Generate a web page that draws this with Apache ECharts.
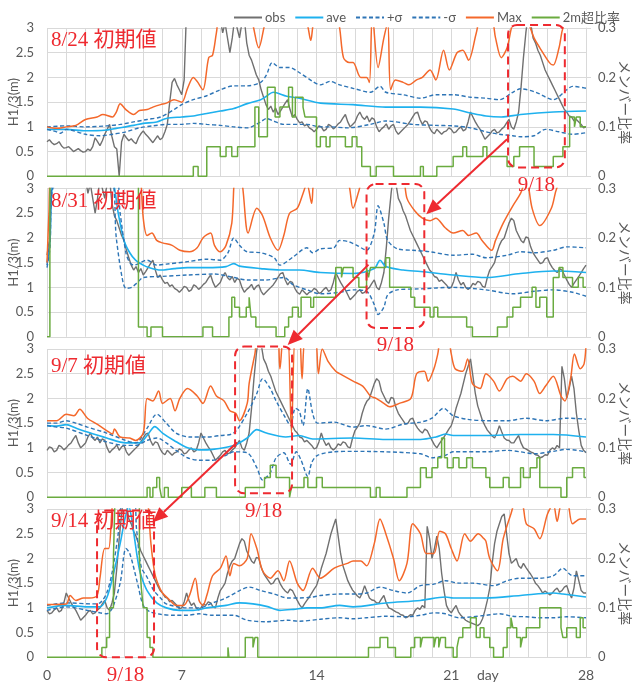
<!DOCTYPE html>
<html><head><meta charset="utf-8">
<script src="https://cdn.jsdelivr.net/npm/echarts@6/dist/echarts.min.js"></script>
<style>html,body{margin:0;padding:0;background:#fff}#c{width:632px;height:688px}</style>
</head><body><div id="c"></div>
<script>
// ---------------- DATA ----------------
// observed H1/3 (m), from 8/24 00:00, one value every OBS_STEP days
const OBS_STEP = 0.125;
const obs = [
0.70,0.74,0.68,0.64,0.66,0.70,0.62,0.57, 0.58,0.60,0.55,0.50,0.53,0.56,0.52,0.49,
0.50,0.55,0.52,0.60,0.78,0.70,0.62,0.72, 0.85,0.95,1.05,0.80,0.60,0.55,0.00,0.70,
0.85,0.78,0.72,0.76,0.70,0.66,0.78,0.86, 0.92,0.85,0.80,0.74,0.68,0.75,0.82,0.74,
0.78,0.90,1.05,1.50,1.90,1.98,1.85,1.75, 1.65,1.95,3.40,3.50,3.60,3.70,3.80,3.75,
3.70,3.60,3.50,3.40,3.30,3.20,3.10,3.30, 3.20,2.90,3.10,2.80,2.50,2.80,3.20,3.00,
2.80,3.10,3.20,2.70,2.45,2.35,2.20,2.05, 1.95,1.75,1.60,1.45,1.35,1.42,1.30,1.38,
1.25,1.32,1.40,1.48,1.55,1.35,1.20,1.25, 1.15,1.08,1.10,1.02,1.05,0.98,0.95,0.90,
0.95,1.02,1.00,0.92,0.95,1.05,1.02,0.96, 1.00,1.06,1.10,1.18,1.25,1.10,1.00,1.05,
1.10,1.22,1.30,1.20,1.15,1.22,1.10,1.18, 1.15,1.00,0.90,0.96,1.00,1.06,0.95,1.02,
1.05,0.92,0.85,0.90,0.95,1.00,1.05,1.12, 1.20,1.28,1.30,1.15,1.05,1.12,1.10,0.98,
0.90,0.86,0.95,0.90,0.85,0.90,0.92,0.98, 0.95,0.88,0.90,0.96,1.00,0.92,0.95,1.10,
1.30,1.20,1.10,1.02,0.95,0.85,0.75,0.80, 0.85,0.92,0.95,0.88,0.90,0.96,1.00,1.08,
1.15,1.00,0.95,1.10,1.30,1.80,2.40,2.90, 3.30,3.10,2.80,2.70,2.55,2.45,2.30,2.15,
2.05,1.95,1.85,1.75,1.65,1.55,1.45,1.35, 1.30,1.22,1.20,1.12,1.15,1.10,1.05,0.98,
1.00,1.12,1.30,1.15,1.05,1.10,1.00,0.96, 1.00,1.08,1.05,1.12,1.10,1.02,1.00,1.20,
1.35,1.42,1.50,1.70,1.85,1.95,2.00,2.15, 2.30,2.40,2.35,2.15,2.05,1.95,1.90,2.02,
2.00,1.82,1.70,1.62,1.55,1.48,1.50,1.58, 1.60,1.48,1.40,1.34,1.30,1.38,1.35,1.25,
1.15,1.06,1.00,1.08,1.15,1.22,1.30,1.38, 1.45,1.60,1.80,1.95,2.10,2.30,2.50,2.65,
2.80,2.45,2.10,1.85,1.70,1.55,1.45,1.36, 1.30,1.24,1.20,1.30,1.45,1.32,1.20,1.16,
1.15,1.10,1.10,1.18,1.25,1.10,1.00,0.98, 0.95,0.92,0.90,0.86,0.85,0.80,0.82,0.86,
0.85,0.95,1.00,0.97,1.05,1.00,2.65,2.40, 2.00,2.20,2.45,2.20,1.70,1.35,1.05,0.95,
0.90,0.98,1.05,0.92,0.85,0.80,0.75,0.72, 0.70,0.68,0.66,0.64,0.68,0.78,0.95,1.15,
1.40,1.90,2.30,2.55,2.70,2.85,2.90,2.50, 2.10,1.90,1.95,2.00,1.85,1.80,1.90,1.82,
1.75,1.68,1.60,1.50,1.45,1.38,1.30,1.34, 1.30,1.26,1.30,1.36,1.40,1.32,1.35,1.42,
1.45,1.30,1.20,1.40,1.75,1.55,1.35,1.30, 1.30
];
const panelLabels = ['8/24 初期値','8/31 初期値','9/7 初期値','9/14 初期値'];
const panelOffsets = [0,7,14,21];      // days from 8/24
const targetLabel = '9/18';
const xTicks = [0,7,14,21,28];

// ---- panel 1 (8/24) ----
const ave1 = [[0,0.95],[1,0.95],[2,0.92],[3,0.93],[3.6,0.97],[4.5,1.03],[5,1.07],[5.7,1.1],[6.2,1.17],[7,1.2],[7.6,1.22],[8.3,1.27],[9,1.32],[9.7,1.37],[10.4,1.47],[11.1,1.55],[11.4,1.62],[11.75,1.7],[12.45,1.62],[13.1,1.58],[14.2,1.48],[15.9,1.45],[17.6,1.4],[19.4,1.4],[21.1,1.36],[22,1.28],[22.8,1.22],[23.6,1.2],[24.6,1.25],[26.3,1.3],[28,1.32]];
const sigP1 = [[0,1.0],[1,1.02],[2,1.0],[3.1,1.02],[3.8,1.05],[4.5,1.1],[5.2,1.15],[5.9,1.2],[6.6,1.35],[7,1.45],[7.6,1.55],[8.3,1.63],[9,1.75],[9.7,1.83],[10.4,1.83],[11.1,1.9],[11.4,2.05],[11.7,2.3],[12.1,2.2],[12.6,2.2],[13.1,2.1],[13.8,1.92],[14.2,1.85],[14.7,1.92],[15.2,1.85],[15.9,1.78],[16.8,1.7],[17.3,1.82],[17.6,1.7],[18.5,1.65],[19.4,1.58],[20.2,1.65],[21.1,1.65],[22,1.6],[22.8,1.58],[23.5,1.55],[24.2,1.7],[24.6,1.77],[25.4,1.7],[26.3,1.55],[27,1.75],[27.3,1.82],[28,1.78]];
const sigM1 = [[0,0.95],[0.5,0.9],[0.7,0.87],[1,0.95],[2,0.85],[2.75,0.82],[3.4,0.85],[4.1,0.9],[4.8,0.98],[5.5,1.02],[6.2,1.05],[7,1.05],[7.6,1.07],[8.3,1.05],[9,1.03],[9.7,1.0],[10.4,0.98],[11.1,1.1],[11.4,1.17],[11.75,1.12],[12.3,1.05],[13.5,1.05],[14.2,1.0],[14.7,1.0],[15.6,0.98],[16.8,1.05],[17.6,1.12],[19,1.05],[20.2,1.03],[21.1,1.02],[22,0.98],[22.8,0.9],[23.5,0.85],[24.2,0.82],[24.6,0.8],[25.3,0.82],[25.9,0.95],[26.6,0.9],[27.3,0.85],[28,0.88]];
const max1 = [[0,1.0],[0.5,0.97],[1,1.0],[1.5,1.03],[2,1.15],[2.6,1.2],[2.9,1.25],[3.4,1.2],[3.6,1.3],[3.8,1.47],[4.1,1.35],[4.5,1.25],[4.8,1.33],[5.2,1.35],[5.5,1.4],[5.9,1.45],[6.2,1.48],[6.6,1.55],[7,1.5],[7.3,1.78],[7.6,2.0],[7.8,1.92],[8.1,1.75],[8.4,2.4],[8.6,2.45],[8.8,2.9],[9.0,3.3],[10,3.6],[10.6,3.2],[11.0,2.6],[11.4,3.2],[12,3.6],[13,3.4],[13.5,3.1],[13.7,2.75],[13.9,3.2],[14.5,3.5],[15.1,3.2],[15.4,2.4],[15.7,2.3],[15.9,2.3],[16.3,2.0],[16.6,2.0],[16.75,1.9],[16.9,3.3],[17.2,2.2],[17.5,2.8],[17.7,3.1],[17.85,1.75],[18.1,1.95],[18.5,1.9],[18.8,1.85],[19.2,1.95],[19.5,2.0],[19.9,2.15],[20.2,1.95],[20.6,2.55],[20.9,2.15],[21.3,2.5],[21.6,2.55],[21.9,2.35],[22.3,2.9],[22.6,3.3],[23.1,3.2],[23.3,2.8],[23.6,2.4],[23.9,2.6],[24.2,3.1],[24.6,3.3],[25.0,3.1],[25.3,2.8],[25.6,2.6],[26.1,2.3],[26.3,2.25],[26.6,2.6],[26.9,3.1],[28,3.5]];
const rate1 = [[0,0],[7.6,0.02],[7.85,0],[8.3,0.06],[9.0,0.04],[9.3,0.06],[9.6,0.04],[9.9,0.06],[10.8,0.14],[11.0,0.08],[11.45,0.18],[11.85,0.12],[12.1,0.14],[12.55,0.18],[12.75,0.12],[12.9,0.16],[13.3,0.14],[13.4,0.12],[14.0,0.06],[14.2,0.08],[14.5,0.06],[14.7,0.08],[15.5,0.06],[15.85,0.08],[16.1,0.06],[16.35,0.02],[16.8,0],[17.1,0.02],[18.0,0],[19.4,0.02],[19.55,0],[20.25,0.02],[21.1,0.04],[21.6,0.06],[21.8,0.04],[22.65,0.06],[22.85,0.04],[23.9,0.02],[24.25,0.04],[24.55,0.06],[25.3,0.02],[26.3,0.04],[26.8,0.06],[27.15,0.12],[27.4,0.1],[27.5,0.12],[27.7,0.1],[28,0.1]];

// ---- panel 2 (8/31) ----
const ave2 = [[0,1.5],[0.15,1.9],[0.3,3.1],[1,3.6],[3,3.4],[3.4,3.2],[3.7,2.5],[4.0,1.95],[4.3,1.7],[4.6,1.55],[5.0,1.45],[5.3,1.4],[5.9,1.35],[6.6,1.38],[7.3,1.4],[8.3,1.4],[9.3,1.42],[9.7,1.48],[10,1.43],[11.1,1.38],[12.1,1.35],[13.1,1.35],[14.2,1.3],[15.9,1.28],[17,1.38],[17.3,1.55],[17.6,1.42],[18.5,1.35],[19.4,1.32],[21.1,1.25],[22.8,1.2],[24.6,1.28],[26.3,1.33],[28,1.3]];
const sigP2 = [[0,1.45],[0.15,2.0],[0.3,3.2],[3.5,3.4],[3.8,2.5],[4.1,1.7],[4.3,1.5],[4.5,1.45],[5.2,1.55],[5.7,1.45],[6.2,1.47],[7.3,1.52],[8.3,1.57],[9.0,1.55],[9.4,1.7],[9.7,2.0],[10,1.85],[10.4,1.72],[11.1,1.7],[11.8,1.6],[12.1,1.45],[12.8,1.62],[13.5,1.8],[13.8,1.7],[14.2,1.78],[14.9,1.8],[15.2,1.95],[15.7,1.92],[16.1,1.85],[16.6,1.75],[17,2.1],[17.2,2.65],[17.5,2.3],[17.7,1.95],[18.2,1.78],[19,1.75],[19.9,1.72],[21.1,1.65],[22.1,1.67],[22.8,1.6],[23.9,1.65],[24.6,1.72],[25.3,1.7],[26.3,1.75],[27,1.82],[28,1.8]];
const sigM2 = [[0,1.4],[0.15,1.8],[0.3,3.0],[3.3,3.2],[3.6,2.0],[3.9,1.2],[4.1,0.98],[4.4,1.0],[4.7,1.1],[5.0,1.2],[5.9,1.22],[7.3,1.25],[8.7,1.27],[9.7,1.2],[10.4,1.15],[11.4,1.15],[12.3,1.2],[12.8,1.05],[13.5,0.95],[14.2,0.87],[15.2,0.9],[15.9,0.95],[16.6,0.92],[17.0,0.65],[17.2,0.45],[17.5,0.6],[17.7,0.85],[18.2,0.95],[19.4,0.97],[21.1,1.0],[22.8,0.95],[24.2,0.87],[25.3,0.92],[26.3,0.95],[27.3,0.9],[28,0.82]];
const max2 = [[0,1.5],[0.1,2.5],[0.2,3.3],[4.7,3.5],[4.85,3.3],[5.0,2.4],[5.2,2.05],[5.45,2.1],[5.7,1.95],[6.0,1.9],[6.5,1.85],[6.9,1.75],[7.4,1.72],[7.8,1.8],[8.1,2.0],[8.5,2.1],[8.7,1.85],[9.0,1.72],[9.3,1.85],[9.6,2.3],[9.8,3.3],[10.1,3.2],[10.45,2.1],[10.9,2.6],[11.2,2.45],[11.6,2.0],[12.0,1.75],[12.3,2.05],[12.6,2.5],[13.0,2.6],[13.3,2.9],[13.5,3.1],[13.75,2.7],[13.9,3.2],[14.3,3.1],[14.8,3.5],[15.6,3.2],[15.9,2.6],[16.2,2.95],[16.5,3.3],[18.3,3.5],[18.7,2.8],[19.1,2.55],[19.5,2.4],[19.9,2.35],[20.2,2.4],[20.7,2.2],[21.1,2.1],[21.6,2.15],[21.9,2.05],[22.3,2.1],[22.6,1.95],[23.1,1.75],[23.3,1.95],[23.7,2.3],[24.2,2.65],[24.6,2.9],[24.9,3.2],[25.2,2.6],[25.6,2.25],[26.2,2.6],[26.6,3.1],[28,3.5]];
const rate2 = [[0,0],[0.15,0.35],[4.75,0.02],[5.2,0],[5.4,0.02],[6.0,0],[8.1,0.02],[8.6,0],[9.45,0.04],[9.6,0.08],[9.75,0.06],[10.0,0.04],[10.35,0.06],[10.5,0.08],[10.6,0.04],[10.85,0.02],[11.9,0],[12.35,0.02],[12.55,0.04],[12.75,0.06],[13.05,0.04],[13.2,0.08],[13.7,0.06],[13.85,0.08],[15.0,0.14],[15.3,0.12],[15.4,0.14],[15.9,0.12],[16.2,0.1],[16.6,0.14],[16.7,0.12],[16.8,0.14],[17.6,0.16],[17.8,0.1],[18.9,0.08],[19.1,0.06],[19.9,0.04],[20.1,0.06],[20.3,0.04],[21.8,0.02],[22.1,0],[23.4,0.02],[23.9,0.04],[24.2,0.06],[24.6,0.08],[25.2,0.1],[25.4,0.06],[25.6,0.08],[25.96,0.04],[26.3,0.12],[26.6,0.14],[26.8,0.12],[27.3,0.1],[27.6,0.12],[27.85,0.1],[28,0.1]];

// ---- panel 3 (9/7) ----
const ave3 = [[0,1.45],[0.5,1.44],[1,1.47],[1.5,1.4],[2.1,1.32],[3.1,1.2],[4.1,1.1],[4.8,1.1],[5.2,1.25],[5.6,1.43],[6.0,1.3],[6.6,1.15],[7.3,1.0],[7.9,0.96],[8.6,0.97],[9.7,1.05],[10.4,1.2],[10.9,1.37],[11.4,1.3],[12.4,1.22],[13.1,1.25],[13.8,1.18],[15.9,1.2],[17.6,1.17],[19.4,1.17],[20.2,1.22],[20.7,1.28],[21.1,1.25],[22.8,1.25],[24.6,1.27],[26.3,1.27],[28,1.22]];
const sigP3 = [[0,1.5],[0.5,1.5],[1,1.55],[1.5,1.5],[2.1,1.42],[3.1,1.3],[4.1,1.15],[4.6,1.1],[5.2,1.4],[5.7,1.68],[6.2,1.5],[6.7,1.3],[7.4,1.22],[8.3,1.22],[9.0,1.25],[9.7,1.3],[10.4,1.7],[10.9,2.1],[11.2,2.4],[11.6,2.2],[11.9,1.95],[12.4,1.6],[12.65,1.45],[12.9,1.8],[13.1,1.75],[13.3,1.45],[13.55,2.2],[13.8,1.7],[14.05,1.5],[14.9,1.52],[15.9,1.42],[16.6,1.45],[17.6,1.38],[18.5,1.48],[19.4,1.52],[20,1.6],[20.6,1.8],[21.1,1.65],[21.8,1.58],[22.8,1.55],[23.9,1.55],[24.9,1.6],[25.9,1.55],[27,1.6],[28,1.58]];
const sigM3 = [[0,1.45],[0.5,1.42],[1,1.4],[2.1,1.25],[3.1,1.12],[4.1,1.05],[4.6,1.05],[5.2,1.15],[5.7,1.2],[6.2,1.1],[6.7,0.95],[7.3,0.8],[7.9,0.75],[8.6,0.75],[9.3,0.85],[9.7,0.92],[10.4,0.9],[10.9,0.6],[11.2,0.35],[11.6,0.5],[11.9,0.8],[12.3,0.9],[12.65,0.67],[12.95,0.92],[13.2,0.75],[13.55,0.42],[13.75,0.7],[14.05,0.85],[14.9,0.92],[15.9,0.93],[17.6,0.92],[19.4,0.88],[20,0.8],[20.7,0.85],[21.1,0.92],[22.8,0.92],[23.9,0.95],[24.6,0.92],[25.3,0.88],[26.3,0.93],[27,0.97],[28,0.92]];
const max3 = [[0,1.55],[0.5,1.55],[1.0,1.68],[1.4,1.65],[1.7,1.78],[2.1,1.6],[2.6,1.48],[3.1,1.35],[3.4,1.28],[3.5,1.38],[3.8,1.22],[4.3,1.2],[4.6,1.15],[5.0,1.3],[5.2,2.0],[5.5,1.95],[5.8,2.15],[6.0,1.9],[6.4,2.0],[6.65,1.75],[6.9,2.0],[7.3,2.2],[7.8,2.05],[8.1,1.9],[8.5,2.25],[8.8,2.05],[9.2,1.95],[9.5,1.75],[9.8,1.7],[10.0,1.55],[10.4,1.9],[10.5,2.3],[10.8,2.9],[11.0,3.3],[11.9,3.4],[12.1,2.6],[12.3,3.3],[12.5,3.3],[12.7,1.3],[12.9,3.3],[13.1,3.3],[13.25,2.4],[13.45,3.3],[13.9,3.3],[14.1,2.5],[14.3,3.0],[14.6,2.75],[15.0,2.55],[15.2,2.5],[15.9,2.35],[16.4,2.25],[16.8,2.05],[17.1,2.0],[17.5,1.9],[17.8,1.83],[18.3,1.9],[18.9,2.0],[19.2,2.5],[19.6,2.55],[19.8,2.35],[20.1,2.6],[20.3,2.9],[20.5,3.3],[20.8,3.3],[21.0,2.9],[21.2,2.6],[21.6,2.55],[21.85,2.8],[22.1,2.3],[22.5,2.2],[22.8,2.5],[23.2,2.35],[23.5,2.15],[23.9,2.4],[24.2,2.45],[24.6,2.35],[24.9,2.5],[25.3,2.35],[25.6,2.1],[25.9,2.25],[26.3,2.45],[26.7,2.05],[26.9,1.95],[27.2,2.4],[27.4,2.9],[27.7,2.6],[27.9,2.7],[28,3.1]];
const rate3 = [[0,0],[5.2,0.02],[5.35,0],[5.5,0.02],[5.7,0.04],[5.85,0.02],[5.95,0],[6.1,0.02],[6.3,0],[7.0,0.02],[7.5,0],[8.2,0.02],[8.8,0],[10.3,0.02],[11.3,0.04],[11.6,0.065],[11.9,0.04],[12.6,0],[12.7,0.02],[13.35,0.04],[13.55,0.02],[14.0,0.04],[14.3,0.02],[16.8,0],[17.1,0.02],[17.3,0],[18.7,0.02],[19.4,0.06],[19.7,0.04],[20.0,0.06],[20.3,0.08],[20.5,0.12],[20.65,0.08],[20.8,0.06],[21.1,0.08],[21.4,0.06],[21.8,0.08],[22.1,0.06],[22.8,0.04],[23.0,0.02],[23.7,0.04],[24.0,0.02],[24.6,0.06],[24.75,0.04],[25.1,0.06],[25.45,0.08],[25.6,0.02],[26.7,0],[27.0,0.04],[27.3,0.06],[27.9,0.04],[28,0.04]];

// ---- panel 4 (9/14) ----
const ave4 = [[0,1.0],[1,1.05],[2.1,1.02],[2.75,1.02],[3.1,1.2],[3.4,1.6],[3.8,2.3],[4.05,2.8],[4.25,3.05],[4.4,2.8],[4.55,2.4],[4.7,2.0],[4.85,1.7],[5.2,1.35],[5.7,1.1],[6.2,1.0],[6.9,0.95],[7.6,0.95],[8.3,1.0],[9.3,1.05],[10,1.1],[10.7,1.08],[11.4,1.03],[12.1,0.95],[12.8,0.97],[13.5,1.0],[14.2,1.0],[15.2,1.05],[15.9,1.02],[17.6,1.1],[19.4,1.15],[20.7,1.22],[21.1,1.2],[22.8,1.2],[24.6,1.25],[26.3,1.3],[26.8,1.28],[28,1.22]];
const sigP4 = [[0,1.05],[1,1.1],[2.4,1.08],[2.75,1.1],[3.1,1.3],[3.4,1.75],[3.7,2.5],[3.9,3.1],[4.5,3.2],[4.65,2.6],[4.9,1.82],[5.2,1.62],[5.55,1.35],[5.9,1.2],[6.2,1.08],[7.3,1.0],[7.9,1.0],[8.6,1.1],[9.3,1.2],[10,1.35],[10.5,1.42],[11.1,1.35],[11.8,1.28],[12.5,1.2],[13.1,1.2],[13.8,1.22],[14.2,1.25],[15.2,1.28],[15.9,1.28],[16.6,1.3],[17.3,1.42],[18.0,1.35],[18.7,1.3],[19.4,1.45],[20.1,1.48],[20.7,1.55],[21.4,1.5],[22.1,1.5],[23.2,1.45],[23.9,1.55],[24.6,1.6],[25.6,1.6],[26.3,1.65],[26.8,1.8],[27.3,1.65],[28,1.65]];
const sigM4 = [[0,0.95],[1,1.02],[2.1,0.95],[2.75,0.9],[3.1,0.88],[3.4,1.0],[3.8,1.5],[4.1,2.2],[4.3,2.1],[4.7,1.5],[5.0,1.05],[5.35,0.92],[5.9,0.87],[6.6,0.85],[7.3,0.85],[7.9,0.88],[8.6,0.85],[9.7,0.85],[10.4,0.75],[11.4,0.72],[12.5,0.75],[13.1,0.73],[14.2,0.77],[15.2,0.8],[15.9,0.78],[16.6,0.8],[17.6,0.83],[18.7,0.82],[19.4,0.85],[20.1,0.9],[20.7,0.88],[21.4,0.8],[22.1,0.82],[22.8,0.85],[23.5,0.88],[24.2,0.83],[24.9,0.82],[25.6,0.8],[26.3,0.8],[27,0.82],[28,0.8]];
const max4 = [[0,1.07],[1,1.08],[1.2,1.25],[1.5,1.15],[1.9,1.2],[2.2,1.2],[2.6,1.25],[2.75,1.6],[3.0,2.2],[3.2,2.2],[3.4,3.1],[3.6,3.5],[5.0,3.5],[5.2,3.3],[5.4,2.3],[5.6,1.7],[5.8,1.45],[6.0,1.3],[6.4,1.15],[6.7,1.05],[7.1,1.05],[7.4,1.25],[7.7,1.6],[7.9,1.15],[8.1,1.05],[8.3,1.25],[8.6,1.65],[9.0,1.8],[9.3,2.05],[9.5,1.65],[9.7,1.9],[10.0,1.85],[10.4,2.0],[10.6,2.5],[10.9,2.2],[11.2,1.75],[11.6,1.6],[12.0,1.75],[12.3,1.55],[12.6,1.95],[13.0,1.5],[13.3,1.35],[13.8,1.8],[14.2,1.6],[14.9,1.8],[15.2,1.85],[15.6,1.9],[15.9,1.95],[16.3,1.95],[16.6,1.85],[17.0,2.3],[17.3,2.8],[17.6,2.5],[18.0,2.0],[18.3,1.55],[18.7,1.9],[19.0,2.7],[19.4,2.5],[19.7,2.1],[20.1,2.1],[20.4,2.55],[20.7,2.5],[21.0,2.2],[21.3,1.95],[21.7,2.5],[22.0,2.35],[22.4,2.5],[22.7,2.4],[22.8,2.35],[23.0,2.0],[23.4,1.75],[23.7,2.4],[24.1,2.9],[24.4,3.2],[24.7,3.1],[24.9,2.7],[25.3,2.6],[25.6,2.4],[26.0,2.9],[26.3,3.1],[26.5,2.75],[26.7,3.1],[27.0,3.2],[27.3,2.7],[27.7,2.8],[28,2.8]];
const rate4 = [[0,0],[2.85,0.02],[3.1,0.04],[3.25,0.1],[3.45,0.2],[3.55,0.35],[4.8,0.2],[4.9,0.14],[5.0,0.1],[5.2,0.04],[5.35,0.02],[5.5,0],[9.4,0.02],[9.45,0],[10.3,0.04],[10.7,0.02],[10.8,0.04],[10.95,0],[16.7,0.02],[17.3,0.04],[17.7,0.02],[18.1,0],[18.9,0.02],[19.1,0.04],[19.4,0.02],[19.5,0.04],[20.1,0.02],[20.2,0.04],[20.35,0.02],[20.45,0.04],[20.7,0.02],[21.1,0],[21.3,0.02],[21.4,0.04],[21.6,0.06],[22.0,0.08],[22.3,0.04],[22.5,0.06],[22.7,0.04],[23.0,0.02],[23.2,0],[23.7,0.02],[23.9,0.06],[24.1,0.08],[24.2,0.06],[24.4,0.04],[24.6,0.02],[24.7,0.04],[24.9,0.06],[25.6,0.1],[26.7,0.06],[26.8,0.04],[27.0,0.06],[27.5,0.04],[27.7,0.08],[27.85,0.06],[28,0.06]];

const panels = [
  {ave:ave1, sp:sigP1, sm:sigM1, max:max1, rate:rate1},
  {ave:ave2, sp:sigP2, sm:sigM2, max:max2, rate:rate2},
  {ave:ave3, sp:sigP3, sm:sigM3, max:max3, rate:rate3},
  {ave:ave4, sp:sigP4, sm:sigM4, max:max4, rate:rate4}
];

// annotation boxes around 9/18 in data units of each panel: [day0, day1, Hbottom, Htop]
const boxes = [[23.95,26.9,0.18,3.06],[16.6,19.6,0.18,3.09],[9.77,12.73,0.08,3.05],[2.6,5.56,0.0,2.97]];
// arrows: from (panel, day, H) to (panel, day, H)
const arrows = [[0,23.9,0.75,1,19.7,2.48],[1,16.7,1.46,2,12.5,3.08],[2,9.87,1.11,3,5.5,2.73]];

// ---------------- STYLE / LAYOUT ----------------
const C = {obs:'#707070', ave:'#1eb1ee', sig:'#2e75b6', max:'#f4682b', rate:'#6aab3f', grid:'#d9d9d9', text:'#595959', red:'#ee2a30'};
const FONT = 'Lato, "Noto Sans CJK JP", sans-serif';
const tops = [28, 188.5, 349, 509];
const PH = 148.3;

const chart = echarts.init(document.getElementById('c'), null, {renderer:'canvas'});

const grids = [], xAxes = [], yAxes = [], series = [];
tops.forEach((t, g) => {
  grids.push({left:47, right:46, top:t, height:PH, containLabel:false, outerBoundsMode:'none'});
  xAxes.push({type:'value', gridIndex:g, min:0, max:28, interval:7,
    axisLine:{show:false}, axisTick:{show:false},
    axisLabel:{show:g===3, color:C.text, fontSize:14, fontFamily:FONT, margin:11,
      formatter:v => xTicks.includes(v) ? String(v) : ''},
    splitLine:{show:true, lineStyle:{color:C.grid, width:1}},
    minorTick:{show:false, splitNumber:7},
    minorSplitLine:{show:true, lineStyle:{color:C.grid, width:1}}
  });
  yAxes.push({type:'value', gridIndex:g, position:'left', min:0, max:3, interval:0.5,
    axisLine:{show:false}, axisTick:{show:false},
    axisLabel:{color:C.text, fontSize:13, fontFamily:FONT, margin:13},
    splitLine:{show:true, lineStyle:{color:C.grid, width:1}},
    name:'H1/3(m)', nameLocation:'middle', nameRotate:90, nameGap:27, nameMoveOverlap:false,
    nameTextStyle:{color:C.text, fontSize:13, fontFamily:FONT}
  });
  yAxes.push({type:'value', gridIndex:g, position:'right', min:0, max:0.3, interval:0.1,
    axisLine:{show:true, lineStyle:{color:C.grid}}, axisTick:{show:true, length:5, lineStyle:{color:C.grid}},
    axisLabel:{color:C.text, fontSize:13, fontFamily:FONT, margin:12, formatter:v=>String(+v.toFixed(1))},
    splitLine:{show:false},
    name:'メンバー比率', nameLocation:'middle', nameRotate:-90, nameGap:32, nameMoveOverlap:false,
    nameTextStyle:{color:C.text, fontSize:14, fontFamily:FONT}
  });

  const off = panelOffsets[g];
  const obsData = obs.map((v,i)=>[+(i*OBS_STEP - off).toFixed(3), v]).filter(p=>p[0]>=0 && p[0]<=28);
  const base = {type:'line', xAxisIndex:g, yAxisIndex:2*g, showSymbol:false, symbol:'none', clip:true, animation:false};
  const P = panels[g];
  series.push(Object.assign({}, base, {name:'obs', data:obsData, lineStyle:{color:C.obs, width:1.4}, itemStyle:{color:C.obs}}));
  series.push(Object.assign({}, base, {name:'ave', data:P.ave, smooth:0.3, lineStyle:{color:C.ave, width:1.6}, itemStyle:{color:C.ave}}));
  series.push(Object.assign({}, base, {name:'+σ', data:P.sp, smooth:0.3, lineStyle:{color:C.sig, width:1.4, type:[4,2.5]}, itemStyle:{color:C.sig}}));
  series.push(Object.assign({}, base, {name:'-σ', data:P.sm, smooth:0.3, lineStyle:{color:C.sig, width:1.4, type:[4,2.5]}, itemStyle:{color:C.sig}}));
  series.push(Object.assign({}, base, {name:'Max', data:P.max, smooth:0.3, lineStyle:{color:C.max, width:1.5}, itemStyle:{color:C.max}}));
  series.push(Object.assign({}, base, {name:'2m超比率', yAxisIndex:2*g+1, data:P.rate, step:'end', lineStyle:{color:C.rate, width:1.5}, itemStyle:{color:C.rate}}));
});

chart.setOption({
  backgroundColor:'#fff',
  animation:false,
  legend:{left:228, top:6, itemWidth:28, itemHeight:10, itemGap:9,
    data:['obs','ave','+σ','-σ','Max','2m超比率'],
    itemStyle:{opacity:0},
    textStyle:{color:C.text, fontSize:13, fontFamily:FONT, padding:[0,0,0,-2]}},
  grid:grids, xAxis:xAxes, yAxis:yAxes, series:series
});

// ---------------- ANNOTATIONS ----------------
function px(g, x, y){ return chart.convertToPixel({xAxisIndex:g, yAxisIndex:2*g}, [x, y]); }
const gfx = [];
panelLabels.forEach((txt, g) => {
  const p = px(g, 0, 3);
  gfx.push({type:'text', x:p[0]+4, y:p[1]+(g===2?7:2), z:100,
    style:{text:txt, fill:C.red, fontSize:21, fontFamily:'"Liberation Serif","Noto Sans CJK JP",serif', textAlign:'left', textVerticalAlign:'top'}});
});
boxes.forEach((b, g) => {
  const a = px(g, b[0], b[3]), c = px(g, b[1], b[2]);
  gfx.push({type:'rect', z:100, shape:{x:a[0], y:a[1], width:c[0]-a[0], height:c[1]-a[1], r:9},
    style:{fill:null, stroke:C.red, lineWidth:2, lineDash:[8,5]}});
  gfx.push({type:'text', z:100, x:(a[0]+c[0])/2, y:c[1]+18,
    style:{text:targetLabel, fill:C.red, fontSize:21, fontFamily:'"Liberation Serif",serif', textAlign:'center', textVerticalAlign:'middle'}});
});
arrows.forEach(a => {
  const p = px(a[0], a[1], a[2]), q = px(a[3], a[4], a[5]);
  const dx = q[0]-p[0], dy = q[1]-p[1], L = Math.hypot(dx, dy), ux = dx/L, uy = dy/L;
  const len = 15, w = 6.5;
  const bx = q[0]-ux*len, by = q[1]-uy*len;
  gfx.push({type:'line', z:100, shape:{x1:p[0], y1:p[1], x2:bx, y2:by}, style:{stroke:C.red, lineWidth:2}});
  gfx.push({type:'polygon', z:100, shape:{points:[[q[0],q[1]],[bx-uy*w, by+ux*w],[bx+uy*w, by-ux*w]]}, style:{fill:C.red}});
});
const dpos = px(3, 22.9, 0);
gfx.push({type:'text', x:dpos[0], y:dpos[1]+18, z:100,
  style:{text:'day', fill:C.text, fontSize:14, fontFamily:FONT, textAlign:'center', textVerticalAlign:'middle'}});
chart.setOption({graphic:gfx});
</script>
</body></html>
